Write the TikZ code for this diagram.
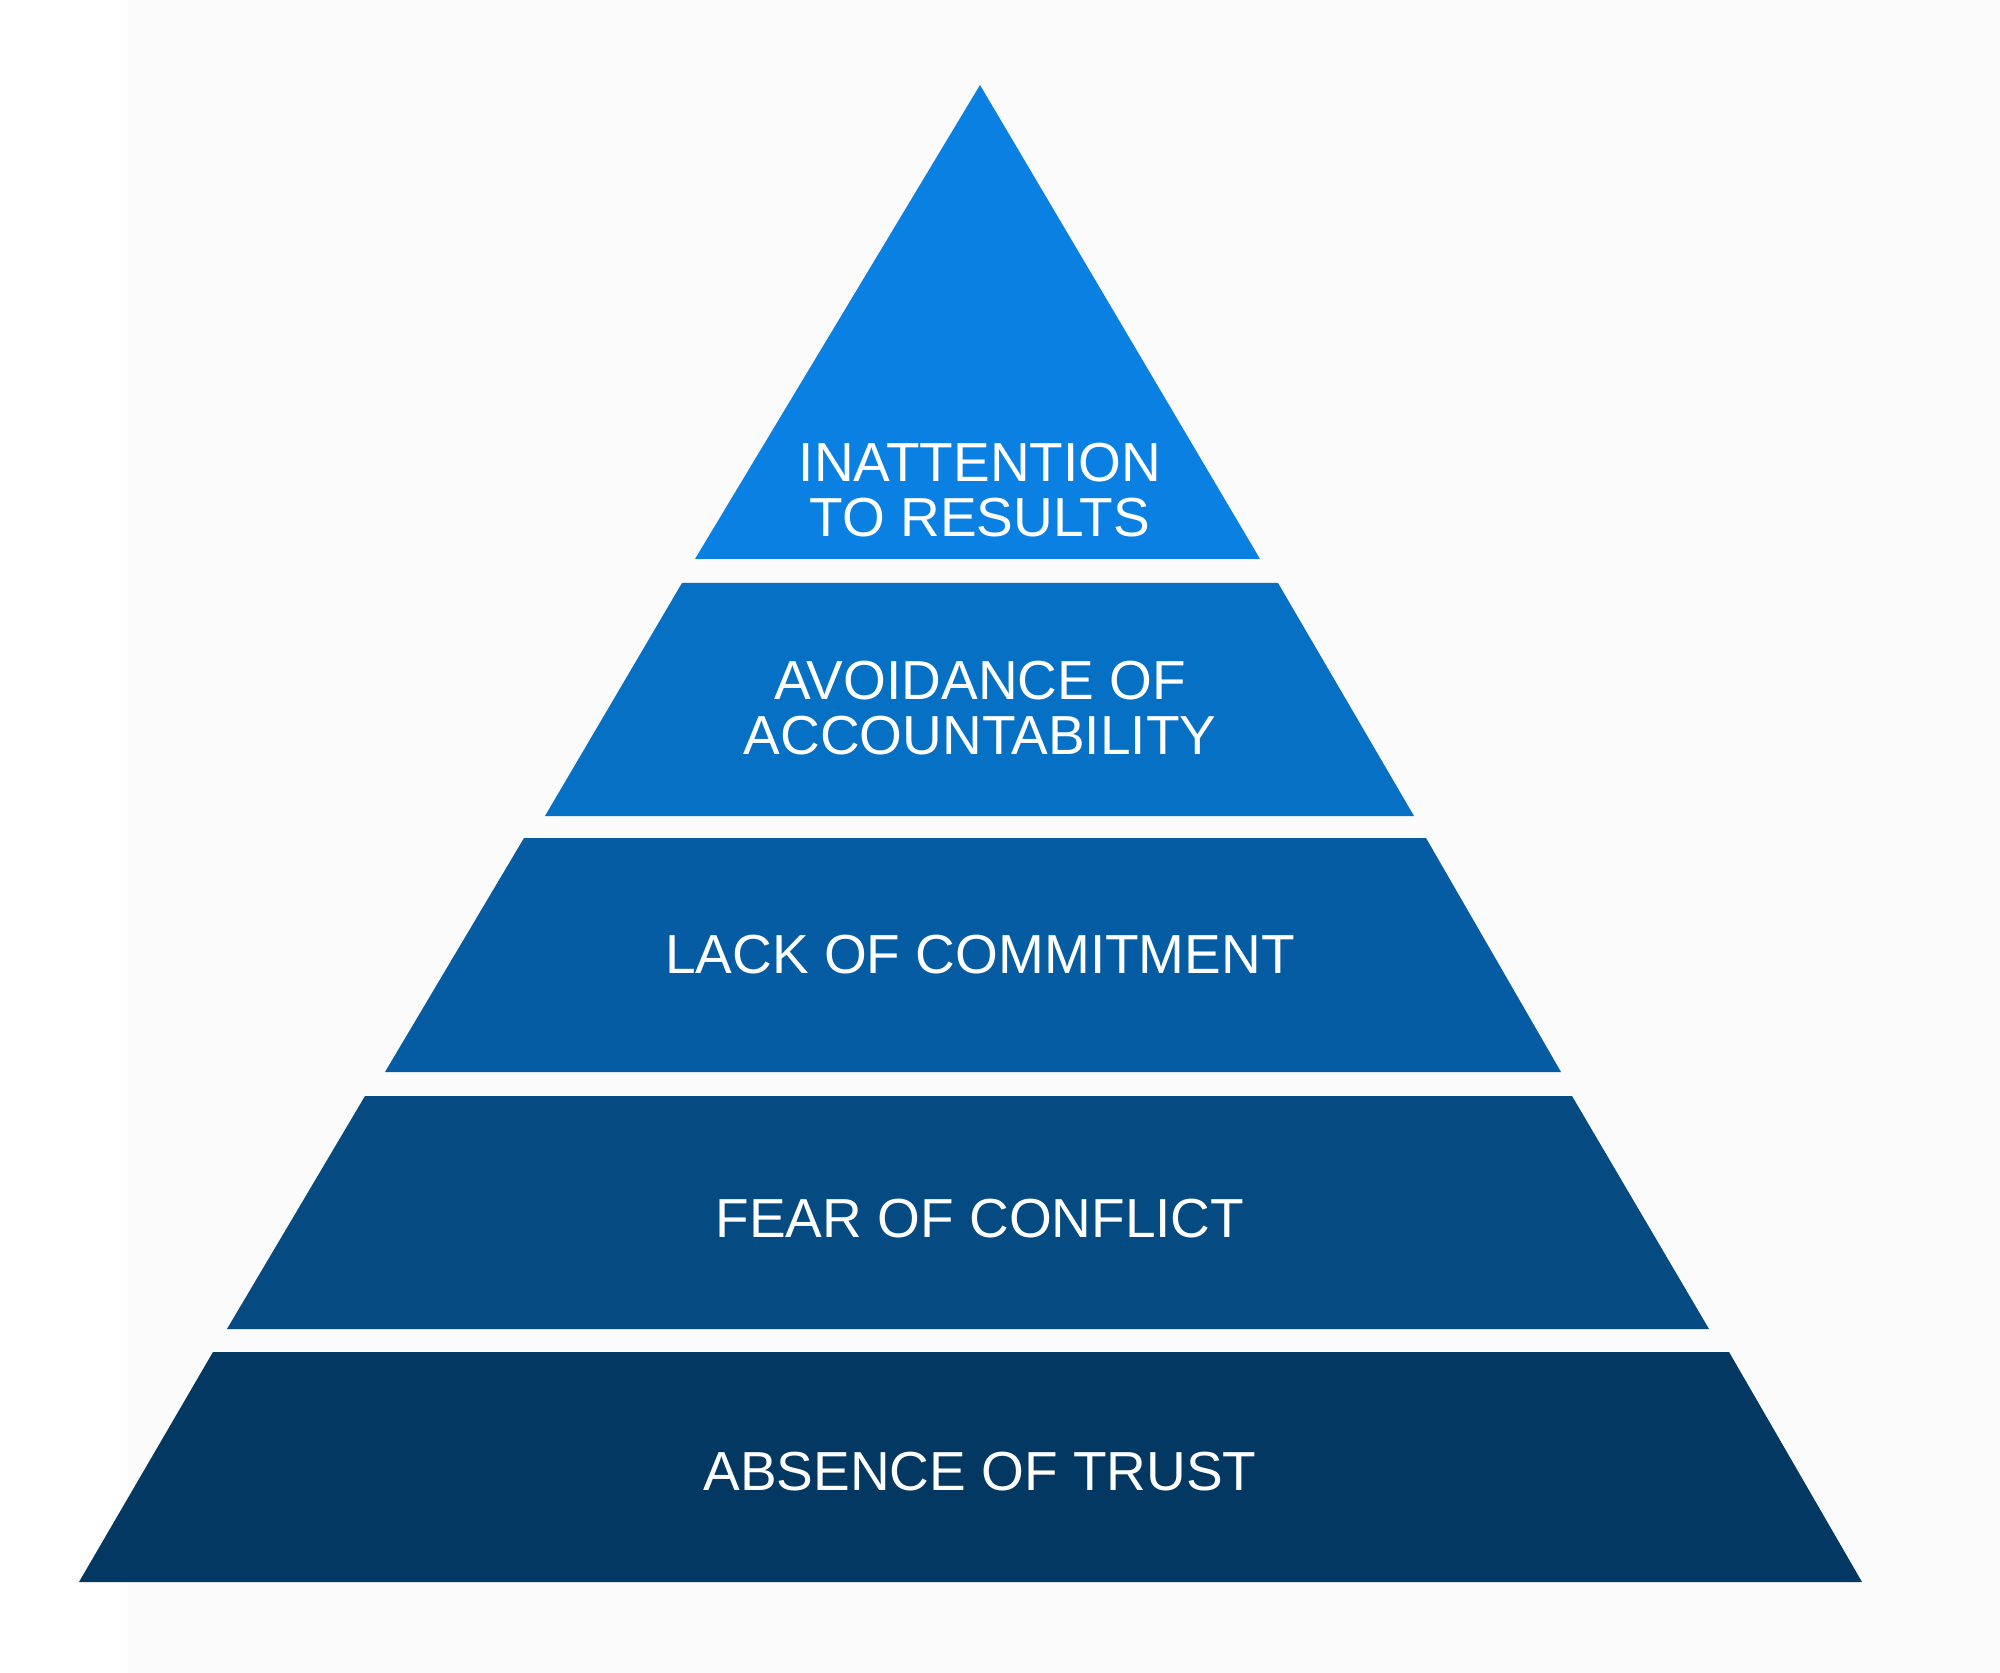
\documentclass[tikz,border=0pt]{standalone}
\usepackage{fontspec}
\setmainfont{Liberation Sans}
\definecolor{bgc}{HTML}{FBFBFB}
\definecolor{cone}{HTML}{0A80E3}
\definecolor{ctwo}{HTML}{0670C4}
\definecolor{cthree}{HTML}{065CA2}
\definecolor{cfour}{HTML}{054A80}
\definecolor{cfive}{HTML}{033862}
\begin{document}
\begin{tikzpicture}[x=0.5pt,y=-0.5pt,
  lbl/.style={text=white, font=\fontsize{27.5}{27.5}\selectfont, align=center,
              inner sep=0pt, text depth=0pt, anchor=south}]
\fill[bgc] (0,0) rectangle (2000,1673);
\fill[white] (0,0) rectangle (127,1673);
\useasboundingbox (0,0) rectangle (2000,1673);
% bands
\fill[cone]   (980,85) -- (1260,559) -- (695,559) -- cycle;
\fill[ctwo]   (682,583) -- (1278,583) -- (1414,816) -- (545,816) -- cycle;
\fill[cthree] (524,838) -- (1426,838) -- (1561,1072) -- (385,1072) -- cycle;
\fill[cfour]  (365,1096) -- (1572,1096) -- (1709,1329) -- (227,1329) -- cycle;
\fill[cfive]  (213,1352) -- (1729,1352) -- (1862,1582) -- (79,1582) -- cycle;
% labels
\node[lbl] (results) at (980,537) {INATTENTION\\TO RESULTS};
\node[lbl] (account) at (980,755) {AVOIDANCE OF\\ACCOUNTABILITY};
\node[lbl] (commit) at (980,974) {LACK OF COMMITMENT};
\node[lbl] (conflict) at (980,1238) {FEAR OF CONFLICT};
\node[lbl] (trust) at (980,1491) {ABSENCE OF TRUST};
\end{tikzpicture}
\end{document}
